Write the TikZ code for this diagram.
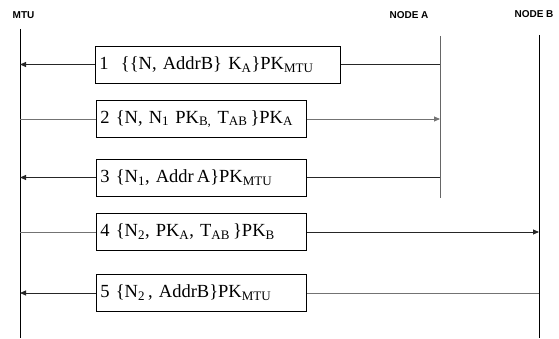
\documentclass[tikz,border=0pt]{standalone}
\usepackage{fontspec}
\setmainfont{Liberation Serif}
\setsansfont{Liberation Sans}
\usetikzlibrary{arrows.meta}
\newcommand\sbs[1]{\textsubscript{\fontsize{13}{14}\selectfont #1}}
\tikzset{
  life/.style={line width=0.9pt, black},
  lifeg/.style={line width=0.9pt, black!60},
  msg/.style={draw=black, line width=0.8pt, inner xsep=4pt, inner ysep=0pt, minimum height=37pt, align=left, font=\fontsize{18.5}{21}\selectfont},
  conn/.style={line width=0.9pt, black!85},
  conng/.style={line width=0.9pt, black!55},
  arr/.style={-{Triangle[length=6pt,width=5pt]}},
  head/.style={font=\sffamily\bfseries\fontsize{10}{12}\selectfont, inner sep=0pt}
}
\begin{document}
\begin{tikzpicture}[x=1pt,y=-1pt]
\useasboundingbox (0,0) rectangle (559,339);
% headers
\node[head] (hmtu) at (23.5,15) {MTU};
\node[head] (ha) at (409,15) {NODE A};
\node[head] (hb) at (534,14) {NODE B};
% lifelines
\coordinate (mT) at (20,29);  \coordinate (mB) at (20,338);
\coordinate (aT) at (440,36); \coordinate (aB) at (440,198);
\coordinate (bT) at (539,35); \coordinate (bB) at (539,338);
\draw[life] (mT) -- (mB);
\draw[lifeg] (aT) -- (aB);
\draw[life] (bT) -- (bB);
% boxes
\node[msg, text width=237pt, anchor=west] (m1) at (95,64.5) {1\ \ \{\{N, AddrB\} K\sbs{A}\}PK\sbs{MTU}};
\node[msg, text width=202pt, anchor=west] (m2) at (96,119) {2 \{N, N\sbs{1} PK\sbs{B,} T\sbs{AB}\,\}PK\sbs{A}};
\node[msg, text width=202pt, anchor=west] (m3) at (96,177.5) {3 \{N\sbs{1}, Addr\,A\}PK\sbs{MTU}};
\node[msg, text width=202pt, anchor=west] (m4) at (96,232) {4 \{N\sbs{2}, PK\sbs{A}, T\sbs{AB}\,\}PK\sbs{B}};
\node[msg, text width=202pt, anchor=west] (m5) at (96,293) {5 \{N\sbs{2}\,, AddrB\}PK\sbs{MTU}};
% connectors
\draw[conn] (m1.east) -- (m1.east -| aT);
\draw[conn, arr] (m1.west) -- (m1.west -| mT);
\draw[conng] (m2.west -| mT) -- (m2.west);
\draw[conng, arr] (m2.east) -- (m2.east -| aT);
\draw[conn] (m3.east) -- (m3.east -| aT);
\draw[conn, arr] (m3.west) -- (m3.west -| mT);
\draw[conng] (m4.west -| mT) -- (m4.west);
\draw[conn, arr] (m4.east) -- (m4.east -| bT);
\draw[conng] (m5.east) -- (m5.east -| bT);
\draw[conn, arr] (m5.west) -- (m5.west -| mT);
\end{tikzpicture}
\end{document}
